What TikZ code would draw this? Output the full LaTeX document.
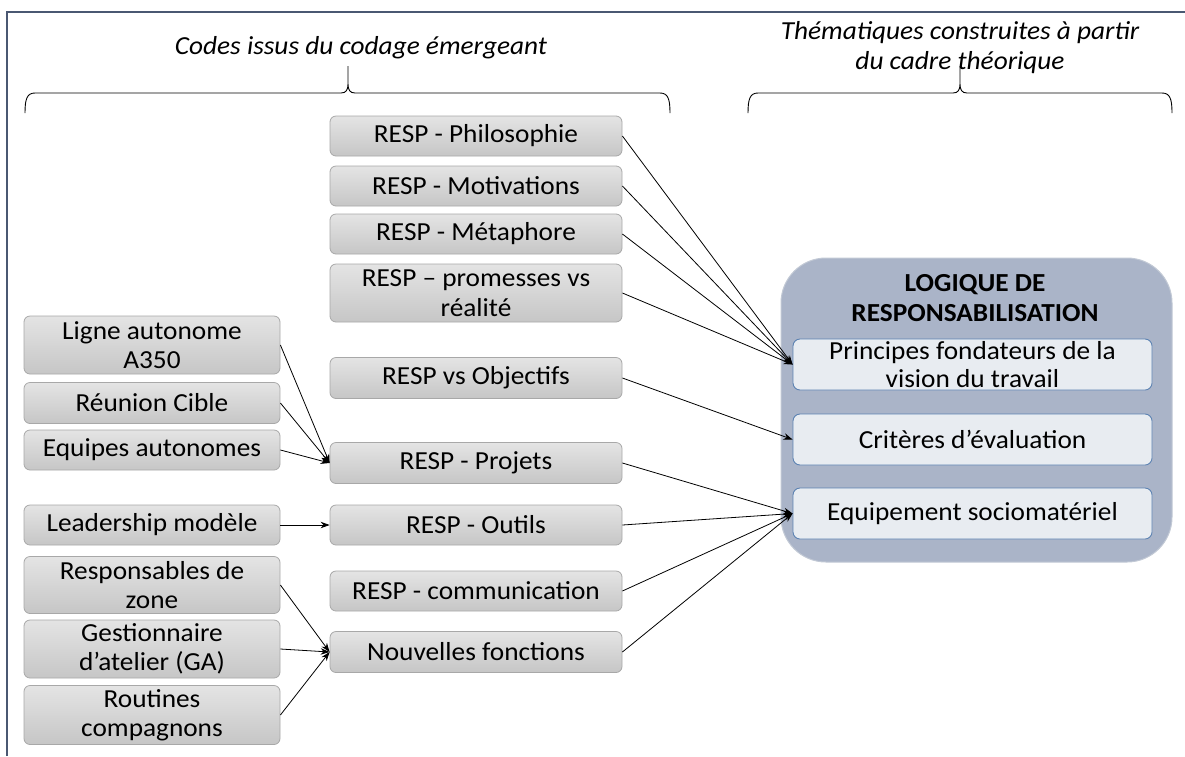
\documentclass[tikz,border=0pt]{standalone}
\usepackage{fontspec}
\setmainfont{Carlito}[FakeStretch=1.05]
\usetikzlibrary{arrows.meta}
\definecolor{gtop}{HTML}{E4E4E4}
\definecolor{gbot}{HTML}{C6C6C6}
\definecolor{boxline}{HTML}{A8A8A8}
\definecolor{bigfill}{HTML}{AAB4C8}
\definecolor{bigline}{HTML}{C2C9D5}
\definecolor{subfill}{HTML}{E8ECF1}
\definecolor{subline}{HTML}{5C82B2}
\definecolor{framec}{HTML}{4A5872}
\begin{document}
\begin{tikzpicture}[x=1pt,y=-1pt,
  txt/.style={font=\fontsize{26}{29.5}\selectfont},
  codebox/.style={txt, draw=boxline, line width=0.8pt, rounded corners=6pt,
    top color=gtop, bottom color=gbot, align=center, inner sep=0pt},
  midbox/.style={codebox, minimum width=292pt},
  leftbox/.style={codebox, minimum width=256pt},
  subbox/.style={font=\fontsize{26}{28}\selectfont, draw=subline, fill=subfill,
    line width=0.9pt, rounded corners=7pt, align=center, inner sep=0pt,
    minimum width=359pt, minimum height=51pt},
  conn/.style={draw=black, line width=0.8pt, -{Stealth[length=9pt,width=6.5pt]}},
  brace/.style={draw=black, line width=0.9pt},
  caption/.style={font=\fontsize{26}{30}\selectfont\itshape, align=center}
]
\useasboundingbox (0,0) rectangle (1185,756);

% outer frame
\draw[framec, line width=1.5pt] (7,756) -- (7,12) -- (1185,12);

% captions and braces
\node[caption] (capL) at (361,48) {Codes issus du codage émergeant};
\node[caption] (capR) at (960,48) {Thématiques construites à partir\\du cadre théorique};
\draw[brace] (25,113) .. controls (25,99) and (27,93) .. (35,93)
  -- (341,93) .. controls (346,93) and (348,90) .. (348,84) -- (348,66)
  (348,84) .. controls (348,90) and (350,93) .. (355,93)
  -- (660,93) .. controls (668,93) and (670,99) .. (670,113);
\draw[brace] (748,113) .. controls (748,99) and (750,93) .. (758,93)
  -- (953,93) .. controls (958,93) and (960,90) .. (960,84) -- (960,66)
  (960,84) .. controls (960,90) and (962,93) .. (967,93)
  -- (1162,93) .. controls (1170,93) and (1172,99) .. (1172,113);

% middle column
\node[midbox, minimum height=40pt] (phil) at (476,136) {RESP - Philosophie};
\node[midbox, minimum height=40pt] (moti) at (476,186) {RESP - Motivations};
\node[midbox, minimum height=40pt] (meta) at (476,234) {RESP - Métaphore};
\node[midbox, minimum height=58pt] (prom) at (476,293) {RESP – promesses vs\\réalité};
\node[midbox, minimum height=41pt] (obj)  at (476,378) {RESP vs Objectifs};
\node[midbox, minimum height=41pt] (proj) at (476,463) {RESP - Projets};
\node[midbox, minimum height=40pt] (outi) at (476,525) {RESP - Outils};
\node[midbox, minimum height=40pt] (comm) at (476,591) {RESP - communication};
\node[midbox, minimum height=41pt] (nouv) at (476,652) {Nouvelles fonctions};

% left column
\node[leftbox, minimum height=58pt] (ligne) at (152,345) {Ligne autonome\\A350};
\node[leftbox, minimum height=41pt] (reun)  at (152,403) {Réunion Cible};
\node[leftbox, minimum height=40pt] (equi)  at (152,450) {Equipes autonomes};
\node[leftbox, minimum height=40pt] (lead)  at (152,525) {Leadership modèle};
\node[leftbox, minimum height=57pt] (respz) at (152,585) {Responsables de\\zone};
\node[leftbox, minimum height=58pt] (gest)  at (152,649) {Gestionnaire\\d’atelier (GA)};
\node[leftbox, minimum height=59pt] (rout)  at (152,715) {Routines\\compagnons};

% theme block
\node[draw=bigline, fill=bigfill, line width=1pt, rounded corners=45pt,
  minimum width=391pt, minimum height=304pt] (big) at (976.5,410) {};
\node[font=\fontsize{26}{30}\selectfont\bfseries, align=center] (title)
  at (975,298) {LOGIQUE DE\\RESPONSABILISATION};
\node[subbox] (princ) at (972.5,364.5) {Principes fondateurs de la\\vision du travail};
\node[subbox] (crit)  at (972.5,439.5) {Critères d’évaluation};
\node[subbox] (equip) at (972.5,513.5) {Equipement sociomatériel};

% connectors
\foreach \s in {phil,moti,meta,prom} \draw[conn] (\s.east) -- (princ.west);
\draw[conn] (obj.east) -- (crit.west);
\foreach \s in {proj,outi,comm,nouv} \draw[conn] (\s.east) -- (equip.west);
\foreach \s in {ligne,reun,equi} \draw[conn] (\s.east) -- (proj.west);
\draw[conn] (lead.east) -- (outi.west);
\foreach \s in {respz,gest,rout} \draw[conn] (\s.east) -- (nouv.west);
\end{tikzpicture}
\end{document}
